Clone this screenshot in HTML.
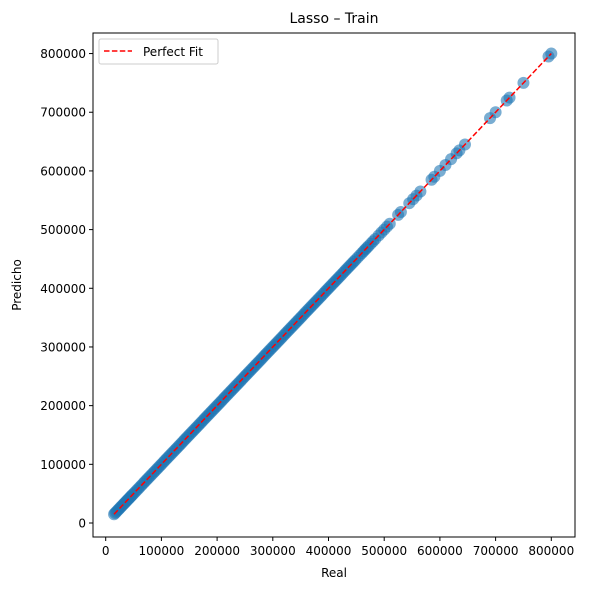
<!DOCTYPE html>
<html><head><meta charset="utf-8"><style>
body{margin:0;background:#fff}
text{font-family:"DejaVu Sans","Liberation Sans",sans-serif;fill:#000}
</style></head><body>
<svg id="chart" width="589" height="590" xmlns="http://www.w3.org/2000/svg">
<text x="334" y="23" font-size="14" text-anchor="middle">Lasso – Train</text>
<g id="points"></g>
<g id="fitline"></g>
<rect x="93" y="33" width="482" height="504" fill="none" stroke="#000" stroke-width="1"/>
<g id="xticks"></g>
<g id="yticks"></g>
<text x="334" y="577" font-size="12" text-anchor="middle">Real</text>
<text transform="translate(21,285) rotate(-90)" font-size="12" text-anchor="middle">Predicho</text>
<g>
<rect x="99" y="39" width="119" height="25" rx="2" fill="#fff" stroke="#ccc"/>
<line x1="104" y1="51" x2="132" y2="51" stroke="red" stroke-width="1.5" stroke-dasharray="5.5,2.4"/>
<text x="143" y="56" font-size="12">Perfect Fit</text>
</g>
</svg>
<script>
const xTicks=[0,100000,200000,300000,400000,500000,600000,700000,800000];
const yTicks=[0,100000,200000,300000,400000,500000,600000,700000,800000];
const realVals=[15000,17000,19000,21000,23000,25000,27000,29000,31000,33000,35000,37000,39000,41000,43000,45000,47000,49000,52000,55000,58000,61000,64000,67000,70000,73000,76000,79000,82000,85000,88000,91000,94000,97000,100000,103000,106000,109000,112000,115000,118000,121000,124000,127000,130000,133000,136000,139000,142000,145000,148000,151000,154000,157000,160000,163000,166000,169000,172000,175000,178000,181000,184000,187000,190000,193000,196000,199000,202000,205000,208000,211000,214000,217000,220000,223000,226000,229000,232000,235000,238000,241000,244000,247000,250000,253000,256000,259000,262000,265000,268000,271000,274000,277000,280000,283000,286000,289000,292000,295000,298000,301000,304000,307000,310000,313000,316000,319000,322000,325000,328000,331000,334000,337000,340000,343000,346000,349000,352000,355000,358000,361000,364000,367000,370000,373000,376000,379000,382000,385000,388000,391000,394000,397000,400000,403000,406000,409000,412000,415000,418000,421000,424000,427000,430000,433000,436000,439000,442000,445000,448000,452000,456000,460000,463000,466000,469000,472000,476000,480000,484000,490000,495000,500000,505000,510000,525000,530000,545000,552000,558000,565000,585000,590000,600000,610000,620000,630000,635000,645000,690000,700000,720000,725000,750000,795000,800000];
const predVals=realVals.slice();
const fitRange=[15000,800000];
const NS="http://www.w3.org/2000/svg";
const sx=v=>105.7+v*0.000557;
const sy=v=>523-v*0.0005868;
function mk(t,a){const e=document.createElementNS(NS,t);for(const k in a)e.setAttribute(k,a[k]);return e;}
const pg=document.getElementById('points');
realVals.forEach((r,i)=>{
  const c=mk('circle',{cx:sx(r),cy:sy(predVals[i]),r:6,fill:'#1f77b4','fill-opacity':0.6});
  
  
  pg.appendChild(c);
});
const fl=mk('line',{x1:sx(fitRange[0]),y1:sy(fitRange[0]),x2:sx(fitRange[1]),y2:sy(fitRange[1]),stroke:'red','stroke-width':1.5,'stroke-dasharray':'5.5,2.4'});


document.getElementById('fitline').appendChild(fl);
const xg=document.getElementById('xticks');
xTicks.forEach(v=>{
  const l=mk('line',{x1:sx(v),y1:537,x2:sx(v),y2:541,stroke:'#000'});
  
  
  xg.appendChild(l);
  const t=mk('text',{x:sx(v),y:555,'font-size':12,'text-anchor':'middle'});
  t.textContent=v;
  
  
  xg.appendChild(t);
});
const yg=document.getElementById('yticks');
yTicks.forEach(v=>{
  const l=mk('line',{x1:89,y1:sy(v),x2:93,y2:sy(v),stroke:'#000'});
  
  
  yg.appendChild(l);
  const t=mk('text',{x:86,y:sy(v)+4.5,'font-size':12,'text-anchor':'end'});
  t.textContent=v;
  
  
  yg.appendChild(t);
});
</script>
</body></html>
